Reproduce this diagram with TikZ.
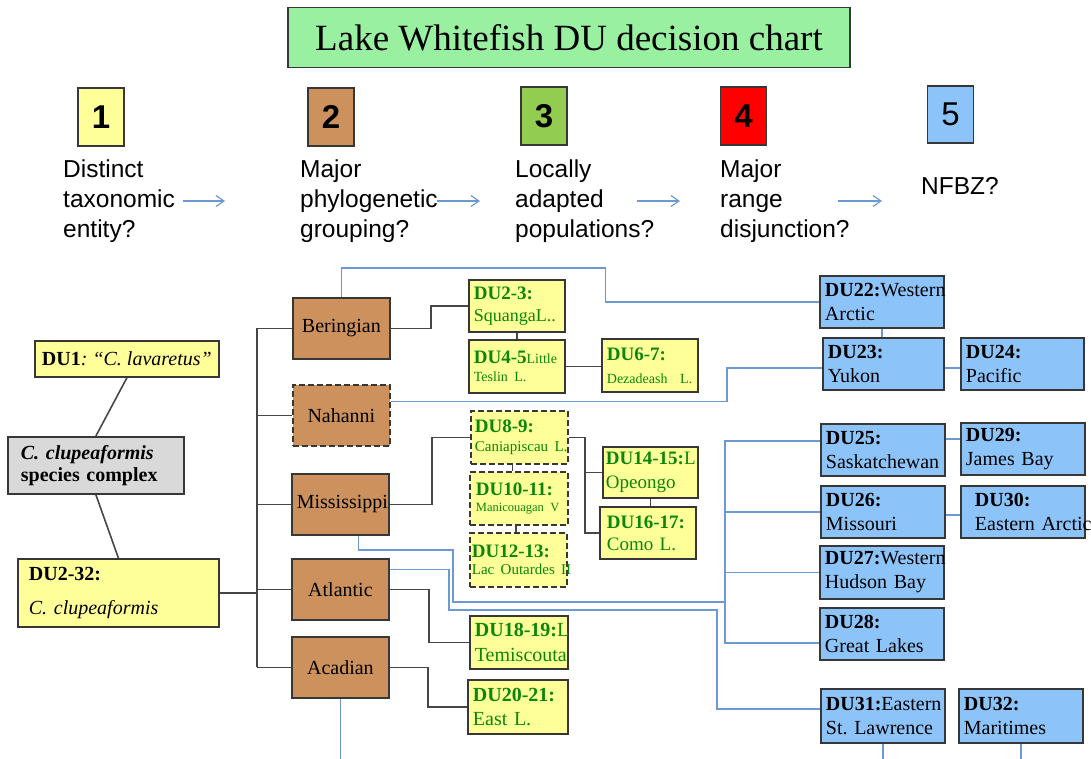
\documentclass[tikz,border=0pt]{standalone}
\usepackage{fontspec}
\setmainfont{Liberation Serif}
\setsansfont{Liberation Sans}
\usepackage{tikz}
\usetikzlibrary{arrows.meta}
\usepackage{xcolor}

\definecolor{paleyellow}{RGB}{255,255,153}
\definecolor{tanbrown}{RGB}{204,145,92}
\definecolor{skyblue}{RGB}{140,196,250}
\definecolor{titlegreen}{RGB}{153,240,160}
\definecolor{leafgreen}{RGB}{146,204,80}
\definecolor{boxgray}{RGB}{217,217,217}
\definecolor{edgegray}{RGB}{55,55,55}
\definecolor{linegray}{RGB}{70,70,70}
\definecolor{lineblue}{RGB}{108,152,212}
\definecolor{dugreen}{RGB}{10,135,10}

\hyphenpenalty=10000
\exhyphenpenalty=10000
\frenchspacing

\tikzset{
  box/.style={draw=edgegray, line width=1.8pt, inner ysep=0pt, inner xsep=5pt},
  corner/.style={anchor=north west},
  gbox/.style={box, corner, fill=tanbrown, inner xsep=0pt, minimum width=97pt, minimum height=61pt, font=\fontsize{20}{24}\selectfont},
  ybox/.style={box, corner, fill=paleyellow, text=dugreen, align=left, font=\fontsize{19}{22}\selectfont},
  bbox/.style={box, corner, fill=skyblue, align=left, text width=114pt, minimum height=52pt, font=\fontsize{20}{24}\selectfont},
  dashbox/.style={dash pattern=on 6pt off 3pt},
  numbox/.style={box, minimum width=46pt, minimum height=58pt, font=\sffamily\fontsize{33}{36}\selectfont},
  qtext/.style={anchor=west, align=left, inner sep=0pt, font=\sffamily\fontsize{24.5}{30}\selectfont},
  conn/.style={draw=linegray, line width=1.6pt},
  bconn/.style={draw=lineblue, line width=1.5pt},
  qarrow/.style={-{Straight Barb[length=8pt,width=11pt]}, draw=lineblue, line width=1.2pt}
}

\begin{document}
\begin{tikzpicture}[x=1pt,y=-1pt]
        \useasboundingbox (0,0) rectangle (1091,759);
        \node[box, fill=titlegreen, minimum width=562pt, minimum height=60pt, font=\fontsize{37}{40}\selectfont] (title) at (569,37.5) {Lake Whitefish DU decision chart};
        \node[numbox, fill=paleyellow] (n1) at (101,117) {\textbf{1}};
        \node[numbox, fill=tanbrown] (n2) at (331,117) {\textbf{2}};
        \node[numbox, fill=leafgreen] (n3) at (544,116) {\textbf{3}};
        \node[numbox, fill=red] (n4) at (743.5,116) {\textbf{4}};
        \node[numbox, fill=skyblue, minimum height=57pt] (n5) at (950.5,114.5) {5};
        \node[qtext] (q1) at (63,201) {Distinct\\taxonomic\\entity?};
        \node[qtext] (q2) at (300,201) {Major\\phylogenetic\\grouping?};
        \node[qtext] (q3) at (515,201) {Locally\\adapted\\populations?};
        \node[qtext] (q4) at (720,201) {Major\\range\\disjunction?};
        \node[qtext, anchor=base west] (q5) at (921,195) {NFBZ?};
        \coordinate (a1) at (183,201);
        \coordinate (a2) at (437,201);
        \coordinate (a3) at (637,201);
        \coordinate (a4) at (838,201);
        \draw[qarrow] (a1) -- ++(42,0);
        \draw[qarrow] (a2) -- ++(43,0);
        \draw[qarrow] (a3) -- ++(43,0);
        \draw[qarrow] (a4) -- ++(44,0);

        \node[box, corner, fill=paleyellow, minimum width=184pt, minimum height=36pt, font=\fontsize{20}{22}\selectfont] (du1) at (34,340) {\textbf{DU1}\textit{: “C. lavaretus”}};
        \node[box, corner, fill=boxgray, inner xsep=13pt, text width=150pt, minimum height=57pt, align=left, font=\fontsize{20}{22}\selectfont] (complex) at (7,436) {\textbf{\textit{C. clupeaformis}}\\\textbf{\mbox{species complex}}};
        \node[box, corner, fill=paleyellow, inner xsep=11pt, text width=179pt, minimum height=68pt, align=left, font=\fontsize{20}{34}\selectfont] (du232) at (17,558) {\textbf{DU2-32:}\\\textit{\mbox{C. clupeaformis}}};

        \node[gbox] (beringian) at (292,297) {Beringian};
        \node[gbox, dashbox] (nahanni) at (292,384) {Nahanni};
        \node[gbox] (mississippi) at (291,473) {\hspace*{4pt}Mississippi};
        \node[gbox] (atlantic) at (291,558) {Atlantic};
        \node[gbox] (acadian) at (291,636) {Acadian};

        \node[ybox, text width=86pt, minimum height=52pt] (squanga) at (468,279) {\textbf{DU2-3:}\\{\fontsize{18}{22}\selectfont SquangaL..}};
        \node[ybox, text width=86pt, minimum height=53pt, font=\fontsize{19}{18}\selectfont] (teslin) at (468,339) {\textbf{DU4-5}{\fontsize{14}{16}\selectfont Little}\\{\fontsize{14}{16}\selectfont\mbox{Teslin L.}}};
        \node[ybox, text width=86pt, minimum height=53pt, font=\fontsize{19}{23}\selectfont] (dezadeash) at (601,338) {\textbf{DU6-7:}\\{\fontsize{14}{16}\selectfont\mbox{Dezadeash\ \ L.}}};
        \node[ybox, dashbox, inner xsep=4pt, text width=89pt, minimum height=53pt, font=\fontsize{19}{19}\selectfont] (caniap) at (470,410) {\textbf{DU8-9:}\\{\fontsize{15}{17}\selectfont\mbox{Caniapiscau L.}}};
        \node[ybox, dashbox, inner xsep=6pt, text width=86pt, minimum height=53pt, font=\fontsize{19}{16}\selectfont] (manic) at (469,471) {\textbf{DU10-11:}\\{\fontsize{12.5}{14}\selectfont\mbox{Manicouagan V}}};
        \node[ybox, dashbox, inner xsep=2pt, text width=93pt, minimum height=54pt, font=\fontsize{19}{17}\selectfont] (outardes) at (469,532) {\textbf{DU12-13:}\\{\fontsize{15}{17}\selectfont\mbox{Lac Outardes II}}};
        \node[ybox, inner xsep=3pt, text width=89pt, minimum height=51pt, font=\fontsize{19}{24}\selectfont] (opeongo) at (602,446) {\textbf{DU14-15:}L\\Opeongo};
        \node[ybox, inner xsep=7pt, text width=82pt, minimum height=52pt] (como) at (599,506) {\textbf{DU16-17:}\\\mbox{Como L.}};
        \node[ybox, text width=88pt, minimum height=53pt, font=\fontsize{20}{25}\selectfont] (temis) at (469,615) {\textbf{DU18-19:}L\\Temiscouta};
        \node[ybox, text width=90pt, minimum height=54pt, font=\fontsize{20}{24}\selectfont] (east) at (467,679) {\textbf{DU20-21:}\\\mbox{East L.}};

        \node[bbox] (warctic) at (819,275) {\textbf{DU22:}Western\\Arctic};
        \node[bbox, text width=111pt] (yukon) at (822,337) {\textbf{DU23:}\\Yukon};
        \node[bbox, text width=113pt] (pacific) at (960,337) {\textbf{DU24:}\\Pacific};
        \node[bbox] (sask) at (820,423) {\textbf{DU25:}\\Saskatchewan};
        \node[bbox] (jbay) at (960,422) {\textbf{DU29:}\\\mbox{James Bay}};
        \node[bbox] (missouri) at (820,485) {\textbf{DU26:}\\Missouri};
        \node[bbox, inner xsep=14pt, text width=96pt] (earctic) at (960,485) {\textbf{DU30:}\\\mbox{Eastern Arctic}};
        \node[bbox, minimum height=53pt] (whudson) at (819,545) {\textbf{DU27:}Western\\\mbox{Hudson Bay}};
        \node[bbox] (glakes) at (819,607) {\textbf{DU28:}\\\mbox{Great Lakes}};
        \node[bbox, minimum height=54pt] (estlaw) at (820,688) {\textbf{DU31:}Eastern\\\mbox{St. Lawrence}};
        \node[bbox, minimum height=54pt] (maritimes) at (958,688) {\textbf{DU32:}\\Maritimes};

        \draw[conn] (du1.south) -- (complex.north);
        \draw[conn] (complex.south) -- (du232.north);
        \draw[conn] (du232.east) -- ++(37,0) coordinate (trunk);
        \draw[conn] (trunk |- beringian.west) -- (trunk |- acadian.west);
        \foreach \g in {beringian,nahanni,mississippi,atlantic,acadian}
          \draw[conn] (trunk |- \g.west) -- (\g.west);
        \draw[conn] (beringian.east) -- ++(40,0) |- (squanga.west);
        \draw[conn] (squanga.south) -- (teslin.north);
        \draw[conn] (teslin.east) -- (teslin.east -| dezadeash.west);
        \draw[conn] (mississippi.east) -- ++(42,0) |- (caniap.west);
        \draw[conn] ([xshift=-7pt]caniap.south) -- ([xshift=-7pt]caniap.south |- manic.north);
        \draw[conn] ([xshift=-3pt]manic.south) -- ([xshift=-3pt]manic.south |- outardes.north);
        \draw[conn] (caniap.east) -- ++(16,0) coordinate (split) |- (como.west);
        \draw[conn] (split |- opeongo.west) -- (opeongo.west);
        \draw[conn] (opeongo.south) -- (opeongo.south |- como.north);
        \draw[conn] (atlantic.east) -- ++(39,0) |- (temis.west);
        \draw[conn] (acadian.east) -- ++(38,0) |- (east.west);

        \draw[bconn] (beringian.north) -- ++(0,-29) -- ++(264,0) |- (warctic.west);
        \draw[bconn] ([yshift=14pt]nahanni.east) -- ++(336,0) |- ([yshift=-4pt]yukon.west);
        \draw[bconn] (warctic.south) -- (warctic.south |- yukon.north);
        \draw[bconn] ([yshift=-4pt]yukon.east) -- ([yshift=-4pt]yukon.east -| pacific.west);
        \draw[bconn] ([yshift=11pt]sask.east) -- ([yshift=11pt]sask.east -| jbay.west);
        \draw[bconn] ([yshift=-3pt]missouri.east) -- ([yshift=-3pt]missouri.east -| earctic.west);
        \draw[bconn] ([yshift=9pt]sask.west) -- ++(-95,0) coordinate (bt) |- ([yshift=-9pt]glakes.west);
        \draw[bconn] (bt |- missouri.west) -- (missouri.west);
        \draw[bconn] (bt |- whudson.west) -- (whudson.west);
        \draw[bconn] ([xshift=18pt]mississippi.south) |- (453,550) |- (725,602);
        \draw[bconn] ([yshift=20pt]atlantic.east) -- ++(59,0) |- (717,610) |- ([yshift=7pt]estlaw.west);
        \draw[bconn] (acadian.south) -- ++(0,61) coordinate (acadend);
        \draw[bconn] (estlaw.south) -- ++(0,17) coordinate (estend);
        \draw[bconn] (maritimes.south) -- ++(0,17) coordinate (marend);
\end{tikzpicture}
\end{document}
